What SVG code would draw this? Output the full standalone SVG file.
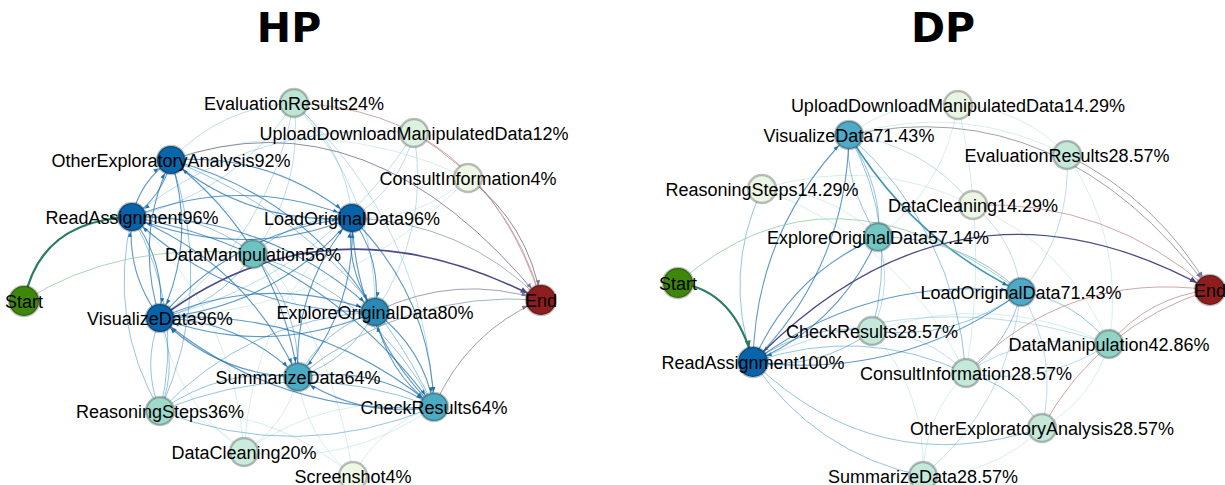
<svg xmlns="http://www.w3.org/2000/svg" width="1225" height="485" viewBox="0 0 1225 485">
  <style>
    .title { font-family: "DejaVu Sans", "Liberation Sans", sans-serif; font-weight: 900; font-size: 41px; fill: #000; text-anchor: middle; }
    .lbl { font-family: "Liberation Sans", Arial, sans-serif; font-size: 18px; fill: #000; text-anchor: middle; }
    .node { stroke: #000; stroke-opacity: 0.25; stroke-width: 2.5; }
    path { fill: none; }
    .s { stroke: #1f70b0; stroke-width: 1.1; stroke-opacity: 0.72; marker-end: url(#arr-blue); }
    .t { stroke: #2e8db3; stroke-width: 1.6; stroke-opacity: 0.9; marker-end: url(#arr-blue); }
    .m { stroke: #3a92c4; stroke-width: 0.9; stroke-opacity: 0.6; }
    .l { stroke: #7fbfd8; stroke-width: 0.8; stroke-opacity: 0.65; }
    .f { stroke: #a9dbd8; stroke-width: 0.8; stroke-opacity: 0.6; }
    .navy { stroke: #4a4a86; stroke-width: 1.6; marker-end: url(#arr-navy); }
    .gp { stroke: #7c7392; stroke-width: 1; stroke-opacity: 0.85; marker-end: url(#arr-gray); }
    .gr { stroke: #8a8a92; stroke-width: 1; stroke-opacity: 0.8; marker-end: url(#arr-gray); }
    .gb { stroke: #8aa3bb; stroke-width: 1; stroke-opacity: 0.8; }
    .rd { stroke: #c49898; stroke-width: 1; stroke-opacity: 0.85; }
    .go { stroke: #2c7c5e; stroke-width: 2.2; marker-end: url(#arr-green); }
    .gl { stroke: #95d0a4; stroke-width: 1; stroke-opacity: 0.85; }
  </style>
  <defs>
    <marker id="arr-blue" markerUnits="userSpaceOnUse" markerWidth="10" markerHeight="10" refX="15" refY="0" orient="auto" overflow="visible">
      <path d="M-5,-2 L0,0 L-5,2 z" style="fill:#1f70b0"/>
    </marker>
    <marker id="arr-navy" markerUnits="userSpaceOnUse" markerWidth="10" markerHeight="10" refX="15" refY="0" orient="auto" overflow="visible">
      <path d="M-7,-3 L0,0 L-7,3 z" style="fill:#4a4a86"/>
    </marker>
    <marker id="arr-gray" markerUnits="userSpaceOnUse" markerWidth="10" markerHeight="10" refX="15" refY="0" orient="auto" overflow="visible">
      <path d="M-5,-2.2 L0,0 L-5,2.2 z" style="fill:#7c7392"/>
    </marker>
    <marker id="arr-green" markerUnits="userSpaceOnUse" markerWidth="10" markerHeight="10" refX="15" refY="0" orient="auto" overflow="visible">
      <path d="M-7,-3 L0,0 L-7,3 z" style="fill:#2c7c5e"/>
    </marker>
  </defs>

  <rect width="1225" height="485" fill="#fff"/>

  <text class="title" x="289" y="42">HP</text>
  <text class="title" x="943" y="42">DP</text>

  <!-- HP transitions -->
  <g id="hp-edges">
    <path class="f" d="M298,377 Q286,425.3 244,452"/>
    <path class="f" d="M244,452 Q175.2,401.8 160,318"/>
    <path class="f" d="M132,217 Q235,312.1 244,452"/>
    <path class="f" d="M244,452 Q330,391.5 434,407"/>
    <path class="f" d="M434,407 Q348,467.5 244,452"/>
    <path class="f" d="M244,452 Q251.2,313.4 352,218"/>
    <path class="f" d="M160,411 Q210.2,414.7 244,452"/>
    <path class="f" d="M353,476 Q305.7,437.5 298,377"/>
    <path class="f" d="M171,160 Q325.2,281.6 353,476"/>
    <path class="f" d="M160,411 Q269.5,404.9 353,476"/>
    <path class="f" d="M353,476 Q379.7,425.3 434,407"/>
    <path class="f" d="M468,178 Q418,221.2 352,218"/>
    <path class="f" d="M468,178 Q342,309.6 160,318"/>
    <path class="f" d="M171,160 Q323.1,109.6 468,178"/>

    <path class="l" d="M294,103 Q235.8,192.4 132,217"/>
    <path class="l" d="M171,160 Q221.1,106.9 294,103"/>
    <path class="l" d="M294,103 Q270,237.3 160,318"/>
    <path class="l" d="M294,103 Q346,148.9 352,218"/>
    <path class="l" d="M294,103 Q303.7,186.7 253,254"/>
    <path class="l" d="M294,103 Q376.3,191.3 375,312"/>
    <path class="l" d="M294,103 Q424.8,227 434,407"/>
    <path class="l" d="M414,133 Q400,187.9 352,218"/>
    <path class="l" d="M132,217 Q256.2,118.6 414,133"/>
    <path class="l" d="M414,133 Q324,276.3 160,318"/>
    <path class="l" d="M414,133 Q430.3,230.3 375,312"/>

    <path class="m" d="M132,217 Q199.9,211.3 253,254"/>
    <path class="m" d="M253,254 Q219.3,304.6 160,318"/>
    <path class="m" d="M253,254 Q295.3,216.2 352,218"/>
    <path class="m" d="M253,254 Q374.1,294.3 434,407"/>
    <path class="m" d="M253,254 Q300.1,306.5 298,377"/>
    <path class="m" d="M375,312 Q349.5,359.9 298,377"/>
    <path class="m" d="M298,377 Q323.5,329.1 375,312"/>
    <path class="m" d="M171,160 Q351.9,230.9 434,407"/>
    <path class="m" d="M160,318 Q178.6,364.5 160,411"/>
    <path class="m" d="M160,411 Q141.4,364.5 160,318"/>
    <path class="m" d="M132,217 Q184.8,308.4 160,411"/>
    <path class="m" d="M160,411 Q107.2,319.6 132,217"/>
    <path class="m" d="M171,160 Q215.7,287.7 160,411"/>
    <path class="m" d="M160,411 Q222.2,366.4 298,377"/>
    <path class="m" d="M160,411 Q296.2,354.2 434,407"/>
    <path class="m" d="M160,411 Q247.7,318.5 375,312"/>
    <path class="m" d="M434,407 Q297.8,463.8 160,411"/>

    <path class="s" d="M132,217 Q140.1,180.7 171,160"/>
    <path class="s" d="M171,160 Q162.9,196.3 132,217"/>
    <path class="s" d="M132,217 Q242.2,173.5 352,218"/>
    <path class="s" d="M352,218 Q241.8,261.5 132,217"/>
    <path class="s" d="M132,217 Q166.2,261.9 160,318"/>
    <path class="s" d="M160,318 Q125.8,273.1 132,217"/>
    <path class="s" d="M171,160 Q273.1,152.8 352,218"/>
    <path class="s" d="M352,218 Q249.9,225.2 171,160"/>
    <path class="s" d="M171,160 Q197.1,241.2 160,318"/>
    <path class="s" d="M160,318 Q133.9,236.8 171,160"/>
    <path class="s" d="M352,218 Q276,306.4 160,318"/>
    <path class="s" d="M160,318 Q236,229.6 352,218"/>
    <path class="s" d="M352,218 Q382.3,260.4 375,312"/>
    <path class="s" d="M375,312 Q344.7,269.6 352,218"/>
    <path class="s" d="M160,318 Q266.3,272 375,312"/>
    <path class="s" d="M375,312 Q268.7,358 160,318"/>
    <path class="s" d="M160,318 Q240.8,319.9 298,377"/>
    <path class="s" d="M298,377 Q217.2,375.1 160,318"/>
    <path class="s" d="M160,318 Q314.8,307.7 434,407"/>
    <path class="s" d="M434,407 Q279.2,417.3 160,318"/>
    <path class="s" d="M132,217 Q272.5,215.9 375,312"/>
    <path class="s" d="M375,312 Q234.5,313.1 132,217"/>
    <path class="s" d="M375,312 Q423.5,347.7 434,407"/>
    <path class="s" d="M434,407 Q385.5,371.3 375,312"/>
    <path class="s" d="M298,377 Q372,364.8 434,407"/>
    <path class="s" d="M434,407 Q360,419.2 298,377"/>
    <path class="s" d="M171,160 Q303.4,195.2 375,312"/>
    <path class="s" d="M132,217 Q321,251.6 434,407"/>
    <path class="s" d="M352,218 Q356.8,308.3 298,377"/>
    <path class="s" d="M298,377 Q293.2,286.7 352,218"/>
    <path class="s" d="M171,160 Q277.9,243.1 298,377"/>
    <path class="s" d="M132,217 Q247,263.8 298,377"/>
    <path class="s" d="M352,218 Q430.8,296.1 434,407"/>
    <path class="s" d="M434,407 Q355.2,328.9 352,218"/>

    <path class="rd" d="M294,103 Q480,110 541,300"/>
    <path class="rd" d="M414,133 Q510.9,191.1 541,300"/>
    <path class="gp" d="M171,160 Q370,90 541,300"/>
    <path class="gp" d="M468,178 Q528.9,224.4 541,300"/>
    <path class="gb" d="M352,218 Q462.9,221.2 541,300"/>
    <path class="gr" d="M375,312 Q455.6,272.8 541,300"/>
    <path class="gr" d="M434,407 Q466.1,332.1 541,300"/>
    <path class="gb" d="M298,377 Q404.1,289.9 541,300"/>
    <path class="navy" d="M160,318 Q330,190 541,300"/>

    <path class="gl" d="M24,301 Q120,240 253,254"/>
    <path class="go" d="M24,301 Q40,220 132,217"/>
  </g>

  <!-- DP transitions -->
  <g id="dp-edges">
    <path class="f" d="M849,135 Q897.5,98.2 958,105"/>
    <path class="f" d="M958,105 Q944.4,187 878,237"/>
    <path class="f" d="M958,105 Q988.8,238.2 966,373"/>
    <path class="f" d="M872,331 Q993.1,290.1 1109,344"/>
    <path class="f" d="M1042,428 Q992.1,475.8 923,476"/>
    <path class="f" d="M923,476 Q923.9,415.9 966,373"/>
    <path class="f" d="M872,331 Q926.5,393.3 923,476"/>
    <path class="f" d="M762,189 Q829.6,189.8 878,237"/>
    <path class="f" d="M762,189 Q900.8,240.2 966,373"/>
    <path class="f" d="M762,189 Q870.7,154.8 973,205"/>
    <path class="f" d="M973,205 Q1068.8,247.3 1109,344"/>
    <path class="f" d="M1109,344 Q1092.3,399.4 1042,428"/>
    <path class="f" d="M1067,155 Q1125.8,241.1 1109,344"/>
    <path class="f" d="M849,135 Q962,101.4 1067,155"/>
    <path class="f" d="M958,105 Q1022.5,108.2 1067,155"/>

    <path class="l" d="M753,362 Q927.4,281.8 1109,344"/>
    <path class="l" d="M849,135 Q925,145.2 973,205"/>
    <path class="l" d="M1067,155 Q1071.4,232.7 1021,292"/>
    <path class="l" d="M1021,292 Q1058.7,355.8 1042,428"/>
    <path class="l" d="M1021,292 Q1008.8,403.6 923,476"/>
    <path class="l" d="M872,331 Q927.4,333.2 966,373"/>
    <path class="l" d="M966,373 Q1031.7,329.9 1109,344"/>
    <path class="l" d="M1109,344 Q1043.3,387.1 966,373"/>
    <path class="l" d="M878,237 Q893.8,285.2 872,331"/>
    <path class="l" d="M973,205 Q1014.4,238.9 1021,292"/>

    <path class="m" d="M753,362 Q806.3,322.7 872,331"/>
    <path class="m" d="M872,331 Q818.7,370.3 753,362"/>
    <path class="m" d="M753,362 Q861.7,324.9 966,373"/>
    <path class="m" d="M753,362 Q877.7,481.7 1042,428"/>
    <path class="m" d="M753,362 Q815.2,453 923,476"/>
    <path class="m" d="M753,362 Q722.9,273.7 762,189"/>
    <path class="m" d="M878,237 Q843.1,180.2 849,135"/>
    <path class="m" d="M849,135 Q883.9,191.8 878,237"/>
    <path class="m" d="M849,135 Q899.7,228.4 872,331"/>
    <path class="m" d="M849,135 Q955.1,230.6 966,373"/>
    <path class="m" d="M1021,292 Q954.3,341.3 872,331"/>
    <path class="m" d="M1021,292 Q1009.7,343.5 966,373"/>
    <path class="m" d="M1021,292 Q1075.4,300.4 1109,344"/>
    <path class="m" d="M966,373 Q1015,385.3 1042,428"/>
    <path class="m" d="M878,237 Q960.5,235.9 1021,292"/>

    <path class="s" d="M753,362 Q755.6,229.3 849,135"/>
    <path class="s" d="M849,135 Q846.4,267.7 753,362"/>
    <path class="s" d="M753,362 Q873,273.4 1021,292"/>
    <path class="s" d="M1021,292 Q901,380.6 753,362"/>
    <path class="s" d="M753,362 Q790.5,274.5 878,237"/>
    <path class="s" d="M878,237 Q840.5,324.5 753,362"/>
    <path class="t" d="M849,135 Q911.5,239.3 1021,292"/>

    <path class="gr" d="M849,135 Q1060,90 1210,290"/>
    <path class="gr" d="M1067,155 Q1158.8,201 1210,290"/>
    <path class="rd" d="M973,205 Q1108.5,200.1 1210,290"/>
    <path class="rd" d="M966,373 Q1067.3,270.5 1210,290"/>
    <path class="rd" d="M1042,428 Q1098.4,325.4 1210,290"/>
    <path class="rd" d="M1109,344 Q1148.7,296.8 1210,290"/>
    <path class="navy" style="stroke-width:1.3" d="M753,362 Q960,150 1210,290"/>

    <path class="gl" d="M678,283 Q830,150 1021,292"/>
    <path class="go" d="M678,283 Q735,290 753,362"/>
  </g>

  <!-- HP activities -->
  <g id="hp-evaluation-results"><circle class="node" cx="294" cy="103" r="14" fill="#bde5d4"/><text class="lbl" x="294" y="109.5">EvaluationResults24%</text></g>
  <g id="hp-upload-download"><circle class="node" cx="414" cy="133" r="14" fill="#dcf1de"/><text class="lbl" x="414" y="139.5">UploadDownloadManipulatedData12%</text></g>
  <g id="hp-other-exploratory"><circle class="node" cx="171" cy="160" r="14" fill="#0a66aa"/><text class="lbl" x="171" y="166.5">OtherExploratoryAnalysis92%</text></g>
  <g id="hp-consult-information"><circle class="node" cx="468" cy="178" r="14" fill="#eff8e7"/><text class="lbl" x="468" y="184.5">ConsultInformation4%</text></g>
  <g id="hp-read-assignment"><circle class="node" cx="132" cy="217" r="14" fill="#0864aa"/><text class="lbl" x="132" y="223.5">ReadAssignment96%</text></g>
  <g id="hp-load-original"><circle class="node" cx="352" cy="218" r="14" fill="#0864aa"/><text class="lbl" x="352" y="224.5">LoadOriginalData96%</text></g>
  <g id="hp-data-manipulation"><circle class="node" cx="253" cy="254" r="14" fill="#6cc3c1"/><text class="lbl" x="253" y="260.5">DataManipulation56%</text></g>
  <g id="hp-start"><circle class="node" cx="24" cy="301" r="15" fill="#3f870b"/><text class="lbl" x="24" y="307.5">Start</text></g>
  <g id="hp-end"><circle class="node" cx="541" cy="300" r="15" fill="#8e1e1e"/><text class="lbl" x="541" y="306.5">End</text></g>
  <g id="hp-visualize-data"><circle class="node" cx="160" cy="318" r="14" fill="#0864aa"/><text class="lbl" x="160" y="324.5">VisualizeData96%</text></g>
  <g id="hp-explore-original"><circle class="node" cx="375" cy="312" r="14" fill="#2b89b6"/><text class="lbl" x="375" y="318.5">ExploreOriginalData80%</text></g>
  <g id="hp-summarize-data"><circle class="node" cx="298" cy="377" r="14" fill="#4aabc3"/><text class="lbl" x="298" y="383.5">SummarizeData64%</text></g>
  <g id="hp-check-results"><circle class="node" cx="434" cy="407" r="14" fill="#4aabc3"/><text class="lbl" x="434" y="413.5">CheckResults64%</text></g>
  <g id="hp-reasoning-steps"><circle class="node" cx="160" cy="411" r="14" fill="#9fd9ca"/><text class="lbl" x="160" y="417.5">ReasoningSteps36%</text></g>
  <g id="hp-data-cleaning"><circle class="node" cx="244" cy="452" r="14" fill="#cbebdc"/><text class="lbl" x="244" y="458.5">DataCleaning20%</text></g>
  <g id="hp-screenshot"><circle class="node" cx="353" cy="476" r="14" fill="#eff8e7"/><text class="lbl" x="353" y="482.5">Screenshot4%</text></g>

  <!-- DP activities -->
  <g id="dp-upload-download"><circle class="node" cx="958" cy="105" r="14" fill="#e8f5e2"/><text class="lbl" x="958" y="111.5">UploadDownloadManipulatedData14.29%</text></g>
  <g id="dp-visualize-data"><circle class="node" cx="849" cy="135" r="14" fill="#4eaac6"/><text class="lbl" x="849" y="141.5">VisualizeData71.43%</text></g>
  <g id="dp-evaluation-results"><circle class="node" cx="1067" cy="155" r="14" fill="#c4e8da"/><text class="lbl" x="1067" y="161.5">EvaluationResults28.57%</text></g>
  <g id="dp-reasoning-steps"><circle class="node" cx="762" cy="189" r="14" fill="#ecf6e5"/><text class="lbl" x="762" y="195.5">ReasoningSteps14.29%</text></g>
  <g id="dp-data-cleaning"><circle class="node" cx="973" cy="205" r="14" fill="#ecf6e5"/><text class="lbl" x="973" y="211.5">DataCleaning14.29%</text></g>
  <g id="dp-explore-original"><circle class="node" cx="878" cy="237" r="14" fill="#72c6c4"/><text class="lbl" x="878" y="243.5">ExploreOriginalData57.14%</text></g>
  <g id="dp-start"><circle class="node" cx="678" cy="283" r="15" fill="#3f870b"/><text class="lbl" x="678" y="289.5">Start</text></g>
  <g id="dp-load-original"><circle class="node" cx="1021" cy="292" r="14" fill="#4eaac6"/><text class="lbl" x="1021" y="298.5">LoadOriginalData71.43%</text></g>
  <g id="dp-end"><circle class="node" cx="1210" cy="290" r="15" fill="#8e1e1e"/><text class="lbl" x="1210" y="296.5">End</text></g>
  <g id="dp-check-results"><circle class="node" cx="872" cy="331" r="14" fill="#c4e8da"/><text class="lbl" x="872" y="337.5">CheckResults28.57%</text></g>
  <g id="dp-read-assignment"><circle class="node" cx="753" cy="362" r="15" fill="#0864aa"/><text class="lbl" x="753" y="368.5">ReadAssignment100%</text></g>
  <g id="dp-data-manipulation"><circle class="node" cx="1109" cy="344" r="14" fill="#93d3c7"/><text class="lbl" x="1109" y="350.5">DataManipulation42.86%</text></g>
  <g id="dp-consult-information"><circle class="node" cx="966" cy="373" r="14" fill="#c4e8da"/><text class="lbl" x="966" y="379.5">ConsultInformation28.57%</text></g>
  <g id="dp-other-exploratory"><circle class="node" cx="1042" cy="428" r="14" fill="#c4e8da"/><text class="lbl" x="1042" y="434.5">OtherExploratoryAnalysis28.57%</text></g>
  <g id="dp-summarize-data"><circle class="node" cx="923" cy="476" r="14" fill="#c4e8da"/><text class="lbl" x="923" y="482.5">SummarizeData28.57%</text></g>
</svg>
